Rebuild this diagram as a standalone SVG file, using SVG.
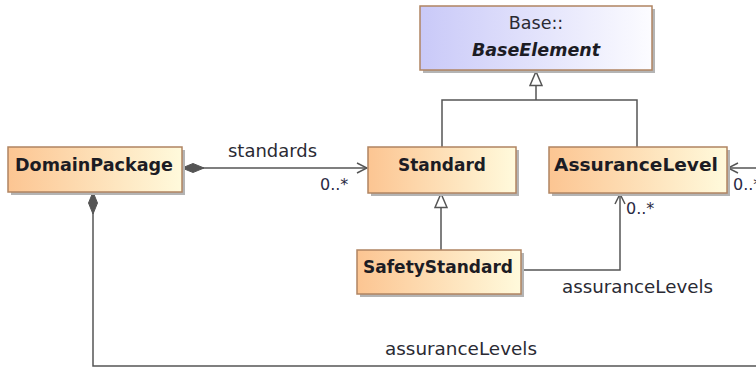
<svg xmlns="http://www.w3.org/2000/svg" width="756" height="368" viewBox="0 0 756 368">
<defs>
<linearGradient id="gOr" x1="0" y1="0" x2="1" y2="0">
<stop offset="0" stop-color="#fcc592"/>
<stop offset="1" stop-color="#fffadc"/>
</linearGradient>
<linearGradient id="gBl" x1="0" y1="0" x2="1" y2="0">
<stop offset="0" stop-color="#c9c9f8"/>
<stop offset="1" stop-color="#fcfcff"/>
</linearGradient>
<marker id="open" viewBox="0 0 12 12" refX="11" refY="6" markerWidth="12" markerHeight="12" markerUnits="userSpaceOnUse" orient="auto">
<path d="M1,1 L11,6 L1,11" fill="none" stroke="#555" stroke-width="1.5"/>
</marker>
<marker id="gen" viewBox="0 0 16 14" refX="15" refY="7" markerWidth="16" markerHeight="14" markerUnits="userSpaceOnUse" orient="auto">
<path d="M1,1 L15,7 L1,13 Z" fill="#fff" stroke="#555" stroke-width="1.5"/>
</marker>
<marker id="dia" viewBox="0 0 24 12" refX="1" refY="6" markerWidth="24" markerHeight="12" markerUnits="userSpaceOnUse" orient="auto">
<path d="M1,6 L12,1.5 L23,6 L12,10.5 Z" fill="#555" stroke="#555" stroke-width="1"/>
</marker>
</defs>
<style>
.box{stroke:#b08462;stroke-width:1.5}
.sh{fill:#b4b4b4}
.cls{font-family:"DejaVu Sans",Verdana,sans-serif;font-weight:bold;font-size:17.5px;fill:#1c1c24;text-anchor:middle}
.lbl{font-family:"DejaVu Sans",Verdana,sans-serif;font-size:17.5px;fill:#2a2a33}
.mult{font-family:"DejaVu Sans",Verdana,sans-serif;font-size:16px;fill:#2a2a44}
.ln{fill:none;stroke:#555;stroke-width:1.5}
</style>
<g id="connectors">
<path class="ln" d="M182,168 L367,168" marker-start="url(#dia)" marker-end="url(#open)"/>
<path class="ln" d="M93,192 L93,366 L770,366 L770,168 L728,168" marker-start="url(#dia)" marker-end="url(#open)"/>
<path class="ln" d="M521,270 L620,270 L620,194" marker-end="url(#open)"/>
<path class="ln" d="M442,147 L442,100 L637,100 L637,147 M536,100 L536,71.5" marker-end="url(#gen)"/>
<path class="ln" d="M441,250 L441,193.5" marker-end="url(#gen)"/>
<text class="lbl" x="228" y="157" textLength="89" lengthAdjust="spacingAndGlyphs">standards</text>
<text class="mult" x="320" y="190">0..*</text>
<text class="mult" x="626" y="214">0..*</text>
<text class="mult" x="733" y="190">0..*</text>
<text class="lbl" x="562" y="293" textLength="151" lengthAdjust="spacingAndGlyphs">assuranceLevels</text>
<text class="lbl" x="385" y="355" textLength="152" lengthAdjust="spacingAndGlyphs">assuranceLevels</text>
</g>
<g id="BaseElement">
<rect class="sh" x="423" y="9" width="232" height="64"/>
<rect class="box" x="420" y="6" width="232" height="64" fill="url(#gBl)"/>
<text class="lbl" x="536" y="29" text-anchor="middle">Base::</text>
<text class="cls" x="536" y="56" font-style="italic">BaseElement</text>
</g>
<g id="DomainPackage">
<rect class="sh" x="11" y="150" width="174" height="45"/>
<rect class="box" x="8" y="147" width="174" height="45" fill="url(#gOr)"/>
<text class="cls" x="94" y="171" textLength="158" lengthAdjust="spacingAndGlyphs">DomainPackage</text>
</g>
<g id="Standard">
<rect class="sh" x="371" y="150" width="148" height="46"/>
<rect class="box" x="368" y="147" width="148" height="46" fill="url(#gOr)"/>
<text class="cls" x="442" y="171" textLength="88" lengthAdjust="spacingAndGlyphs">Standard</text>
</g>
<g id="AssuranceLevel">
<rect class="sh" x="552" y="150" width="178" height="46"/>
<rect class="box" x="549" y="147" width="178" height="46" fill="url(#gOr)"/>
<text class="cls" x="636" y="171" textLength="164" lengthAdjust="spacingAndGlyphs">AssuranceLevel</text>
</g>
<g id="SafetyStandard">
<rect class="sh" x="360" y="253" width="164" height="44"/>
<rect class="box" x="357" y="250" width="164" height="44" fill="url(#gOr)"/>
<text class="cls" x="438" y="273" textLength="150" lengthAdjust="spacingAndGlyphs">SafetyStandard</text>
</g>
</svg>
